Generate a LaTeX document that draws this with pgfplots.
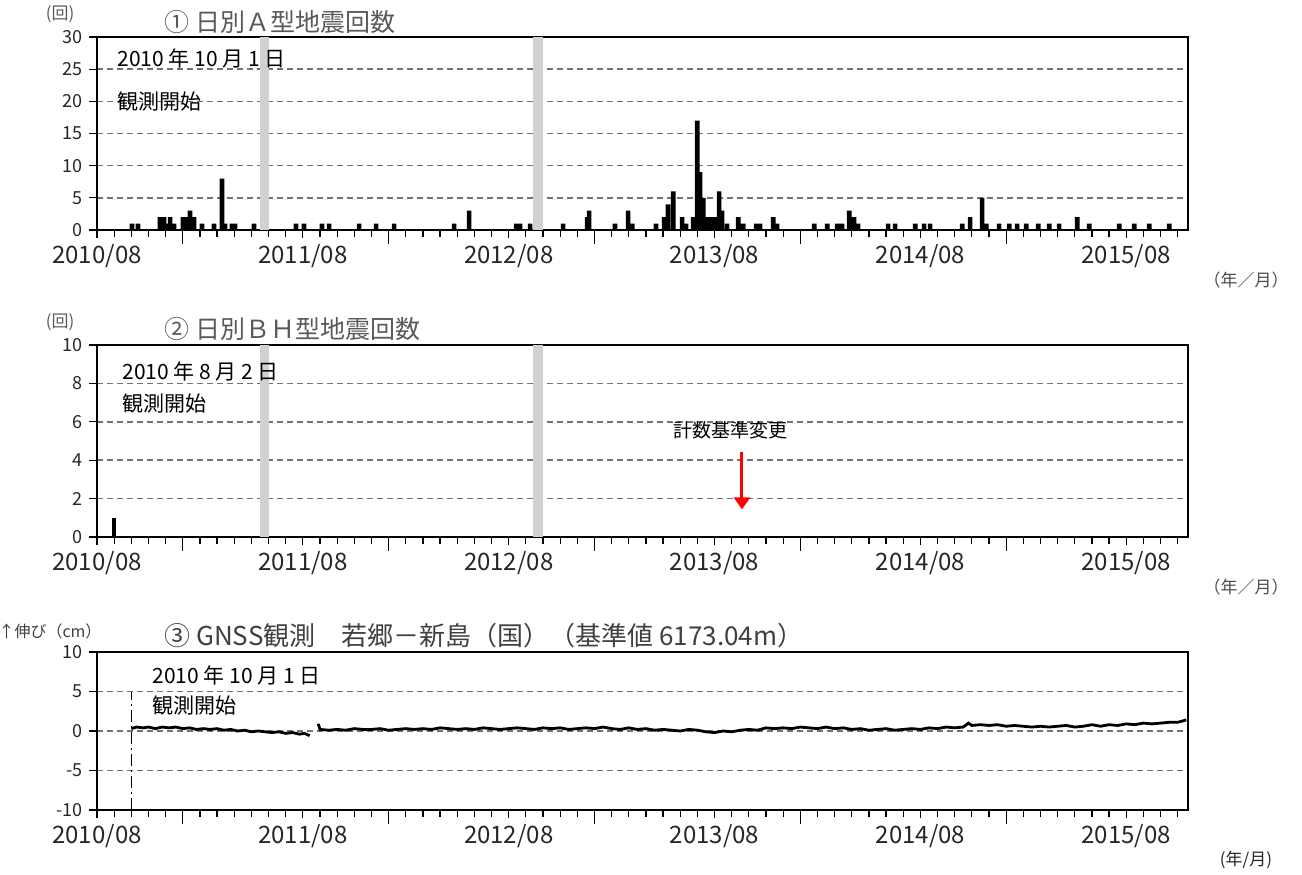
\documentclass[border=0pt]{standalone}
\usepackage{fontspec}
\setmainfont{Noto Sans CJK JP}
\usepackage{pgfplots}
\pgfplotsset{compat=1.18}
\usetikzlibrary{arrows.meta}
\pgfplotsset{
 panel/.style={
  scale only axis, width=545.5pt, xmin=0, xmax=63.6, anchor=south west,
  axis line style={line width=1pt},
  tick align=outside, tick style={black, line width=0.6pt},
  xtick pos=bottom, ytick pos=left,
  xtick={0,12,24,36,48,60},
  xticklabels={2010/08,2011/08,2012/08,2013/08,2014/08,2015/08},
  minor xtick={1,...,63},
  extra x ticks={5,17,29,41,53},
  extra x tick labels={},
  extra x tick style={major tick length=7pt, xtick pos=bottom},
  major tick length=3.8pt, minor tick length=3.5pt,
  ymajorgrids,
  major grid style={black!55, dash pattern=on 3pt off 2pt, line width=0.8pt},
  xticklabel style={font=\fontsize{12}{12}\selectfont, text=black!85},
  yticklabel style={font=\fontsize{9}{9}\selectfont, text=black!85},
  /pgf/number format/assume math mode=true,
 }
}
\begin{document}
\begin{tikzpicture}
\useasboundingbox (0,0) rectangle (651pt,437pt);
% ---------- Panel 1 ----------
\begin{axis}[panel, at={(48.5pt,322pt)}, height=96.5pt, ymin=0, ymax=30, ytick={0,5,...,30}]
\addplot[fill=black!18, draw=none] coordinates {(9.5,0) (9.5,30) (10.0,30) (10.0,0)};
\addplot[fill=black!18, draw=none] coordinates {(25.4,0) (25.4,30) (26.0,30) (26.0,0)};
\addplot[ybar, bar width=0.27, fill=black, draw=none] coordinates {
(2.04,1) (2.39,1) (3.67,2) (3.91,2) (4.08,1) (4.26,2) (4.49,1) (5.01,2) (5.25,2) (5.42,3)
(5.66,2) (6.12,1) (6.82,1) (7.29,8) (7.46,1) (7.87,1) (8.05,1) (9.15,1)
(11.60,1) (12.07,1) (13.12,1) (13.53,1) (15.28,1) (16.27,1) (17.32,1)
(20.82,1) (21.69,3) (24.43,1) (24.66,1) (25.25,1)
(27.17,1) (28.57,2) (28.69,3) (30.20,1) (30.96,3) (31.20,1) (32.59,1)
(33.06,2) (33.29,4) (33.59,6) (34.11,2) (34.34,1) (34.75,2) (34.99,17) (35.16,9) (35.34,5)
(35.51,2) (35.74,2) (35.98,2) (36.27,6) (36.44,3) (36.73,1) (37.38,2) (37.67,1)
(38.43,1) (38.66,1) (39.42,2) (39.65,1) (41.81,1) (42.57,1) (43.15,1) (43.44,1)
(43.85,3) (44.14,2) (44.37,1) (46.12,1) (46.53,1) (47.70,1) (48.22,1) (48.57,1)
(50.44,1) (50.90,2) (51.60,5) (51.84,1) (52.59,1) (53.18,1) (53.64,1) (54.17,1)
(54.87,1) (55.51,1) (56.09,1) (57.14,2) (57.84,1) (59.59,1) (60.47,1) (61.34,1) (62.51,1)
};
\end{axis}
% ---------- Panel 2 ----------
\begin{axis}[panel, at={(48.5pt,168.5pt)}, height=96pt, ymin=0, ymax=10, ytick={0,2,...,10}]
\addplot[fill=black!18, draw=none] coordinates {(9.5,0) (9.5,10) (10.0,10) (10.0,0)};
\addplot[fill=black!18, draw=none] coordinates {(25.4,0) (25.4,10) (26.0,10) (26.0,0)};
\addplot[ybar, bar width=0.27, fill=black, draw=none] coordinates {(1.0,1)};
\addplot[red, line width=1.5pt, -{Triangle[width=8pt,length=6pt]}] coordinates {(37.6,4.44) (37.6,1.44)};
\end{axis}
% ---------- Panel 3 ----------
\begin{axis}[panel, at={(48.5pt,32pt)}, height=79pt, ymin=-10, ymax=10, ytick={-10,-5,0,5,10}]
\addplot[black, line width=0.6pt, dash pattern=on 6pt off 2pt on 1pt off 2pt] coordinates {(2,-10) (2,5)};
\addplot[black, line width=1.4pt, unbounded coords=jump] coordinates {
(2.0,0.3) (2.3,0.5) (2.7,0.4) (3.0,0.5) (3.4,0.3) (3.8,0.5) (4.2,0.4) (4.6,0.5) (5.0,0.3)
(5.4,0.4) (5.8,0.2) (6.2,0.3) (6.6,0.2) (7.0,0.3) (7.4,0.1) (7.8,0.2) (8.2,0.0) (8.6,0.1)
(9.0,-0.1) (9.4,0.0) (9.8,-0.1) (10.2,-0.2) (10.6,-0.1) (11.0,-0.3) (11.4,-0.2) (11.8,-0.4)
(12.1,-0.3) (12.4,-0.6) (12.65,nan)
(12.9,0.9) (13.0,0.2) (13.5,0.1) (14.0,0.2) (14.5,0.1) (15.0,0.3) (15.5,0.2) (16.0,0.2)
(16.5,0.3) (17.0,0.1) (17.5,0.2) (18.0,0.3) (18.5,0.2) (19.0,0.3) (19.5,0.2) (20.0,0.4)
(20.5,0.3) (21.0,0.2) (21.5,0.3) (22.0,0.2) (22.5,0.4) (23.0,0.3) (23.5,0.2) (24.0,0.3)
(24.5,0.4) (25.0,0.3) (25.5,0.2) (26.0,0.4) (26.5,0.3) (27.0,0.4) (27.5,0.2) (28.0,0.3)
(28.5,0.4) (29.0,0.3) (29.5,0.5) (30.0,0.3) (30.5,0.2) (31.0,0.4) (31.5,0.2) (32.0,0.3)
(32.5,0.1) (33.0,0.2) (33.5,0.1) (34.0,0.0) (34.5,0.2) (35.0,0.1) (35.5,-0.1) (36.0,-0.2)
(36.5,0.0) (37.0,-0.1) (37.5,0.1) (38.0,0.2) (38.5,0.1) (39.0,0.4) (39.5,0.3) (40.0,0.4)
(40.5,0.3) (41.0,0.5) (41.5,0.4) (42.0,0.3) (42.5,0.5) (43.0,0.3) (43.5,0.4) (44.0,0.2)
(44.5,0.3) (45.0,0.1) (45.5,0.2) (46.0,0.3) (46.5,0.1) (47.0,0.2) (47.5,0.3) (48.0,0.2)
(48.5,0.4) (49.0,0.3) (49.5,0.5) (50.0,0.4) (50.5,0.5) (50.8,1.0) (51.0,0.7) (51.5,0.8)
(52.0,0.7) (52.5,0.8) (53.0,0.6) (53.5,0.7) (54.0,0.6) (54.5,0.5) (55.0,0.6) (55.5,0.5)
(56.0,0.6) (56.5,0.7) (57.0,0.5) (57.5,0.6) (58.0,0.8) (58.5,0.6) (59.0,0.8) (59.5,0.7)
(60.0,0.9) (60.5,0.8) (61.0,1.0) (61.5,0.9) (62.0,1.0) (62.5,1.1) (63.0,1.1) (63.5,1.4)
};
\end{axis}
% ---------- Texts ----------
\begin{scope}[every node/.style={inner sep=0pt}]
\node[anchor=west, text=black!65, font=\fontsize{12.5}{12.5}\selectfont] at (82pt,426pt) {① 日別Ａ型地震回数};
\node[text=black!65, font=\fontsize{8.5}{8.5}\selectfont] at (30pt,430pt) {(回)};
\node[anchor=west, text=black!65, font=\fontsize{12.5}{12.5}\selectfont] at (82pt,272.5pt) {② 日別ＢＨ型地震回数};
\node[text=black!65, font=\fontsize{8.5}{8.5}\selectfont] at (30pt,276pt) {(回)};
\node[anchor=west, text=black!75, font=\fontsize{13}{13}\selectfont] at (82pt,119pt) {③ GNSS観測　若郷－新島（国）（基準値 6173.04m）};
\node[text=black!75, font=\fontsize{8}{8}\selectfont] at (25pt,121.5pt) {↑伸び（cm）};
\node[text=black!70, font=\fontsize{8.5}{8.5}\selectfont] at (623pt,297pt) {（年／月）};
\node[text=black!70, font=\fontsize{8.5}{8.5}\selectfont] at (623pt,143.5pt) {（年／月）};
\node[text=black!85, font=\fontsize{8.5}{8.5}\selectfont] at (623pt,7pt) {(年/月)};
\node[anchor=west, font=\fontsize{10.5}{10.5}\selectfont] at (58.5pt,408pt) {2010 年 10 月 1 日};
\node[anchor=west, font=\fontsize{10.5}{10.5}\selectfont] at (58.5pt,386pt) {観測開始};
\node[anchor=west, font=\fontsize{10.5}{10.5}\selectfont] at (61pt,251.5pt) {2010 年 8 月 2 日};
\node[anchor=west, font=\fontsize{10.5}{10.5}\selectfont] at (61pt,235pt) {観測開始};
\node[anchor=west, font=\fontsize{10.5}{10.5}\selectfont] at (76pt,99.5pt) {2010 年 10 月 1 日};
\node[anchor=west, font=\fontsize{10.5}{10.5}\selectfont] at (76pt,84pt) {観測開始};
\node[font=\fontsize{9.5}{9.5}\selectfont] at (365pt,222pt) {計数基準変更};
\end{scope}
\end{tikzpicture}
\end{document}
